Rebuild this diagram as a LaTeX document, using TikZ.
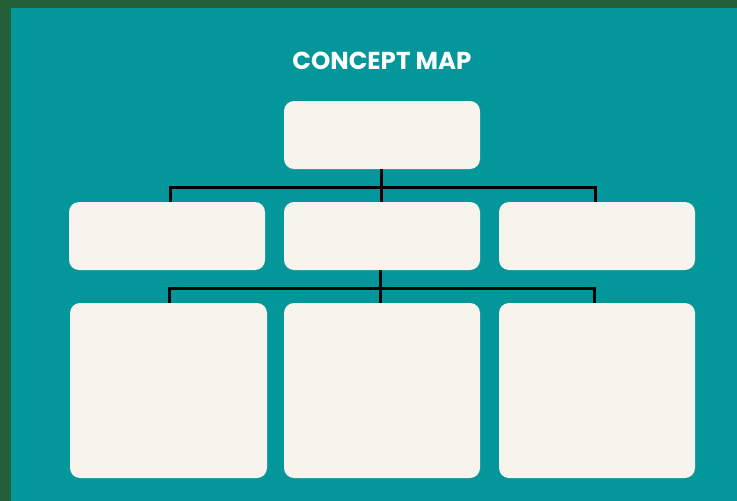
\documentclass[tikz,border=0pt]{standalone}
\usepackage{fontspec}
\usepackage{tikz}
\usetikzlibrary{positioning}
\newfontfamily\titlefont{Poppins}
\definecolor{framegreen}{RGB}{35,96,56}
\definecolor{mapteal}{RGB}{3,151,155}
\definecolor{cardcream}{RGB}{247,243,237}

\begin{document}
\begin{tikzpicture}[x=1pt,y=-1pt]
            \tikzstyle{card}=[fill=cardcream, rounded corners=10pt, inner sep=0pt, minimum width=196pt]
            \tikzstyle{link}=[line width=3pt, black]
            \useasboundingbox (0,0) rectangle (737,501);
            \fill [framegreen] (0,0) rectangle (737,501);
            \fill [mapteal] (11,8) rectangle (737,501);
            \node [font=\titlefont\bfseries\fontsize{24.5}{24.5}\selectfont, text=white] (title) at (382,61) {CONCEPT MAP};
            \node [card, minimum height=68pt] (root) at (382,135) {};
            \node [card, minimum height=68pt] (left) at (167,236) {};
            \node [card, minimum height=68pt] (mid) at (382,236) {};
            \node [card, minimum height=68pt] (right) at (597,236) {};
            \node [card, minimum width=197pt, minimum height=175pt] (leftbox) at (168.5,390.5) {};
            \node [card, minimum height=175pt] (midbox) at (382,390.5) {};
            \node [card, minimum height=175pt] (rightbox) at (597,390.5) {};
            \coordinate (barA) at (381,187);
            \coordinate (barB) at (380,288);
            \draw [link] (root.south -| barA) -- (mid.north -| barA);
            \draw [link] ([xshift=3pt]left.north) |- (barA) -| ([xshift=-2pt]right.north);
            \draw [link] (mid.south -| barB) -- (midbox.north -| barB);
            \draw [link] ([xshift=0.5pt]leftbox.north) |- (barB) -| ([xshift=-3pt]rightbox.north);
        \end{tikzpicture}
\end{document}
